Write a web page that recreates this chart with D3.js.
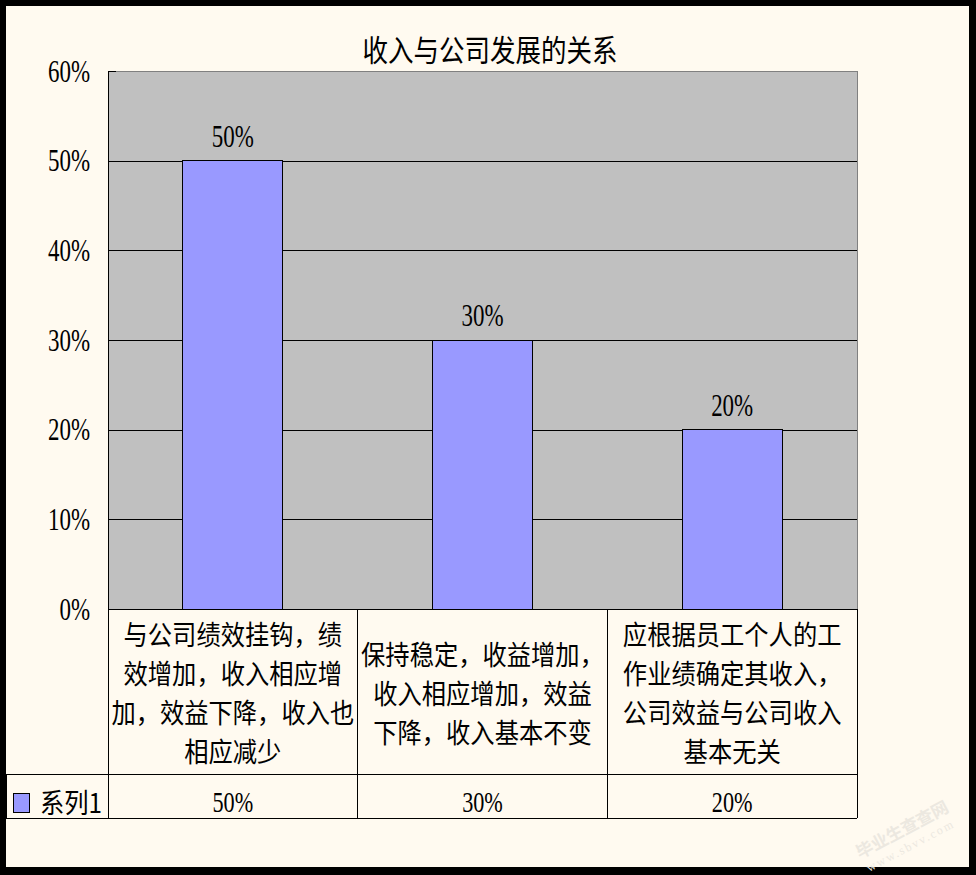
<!DOCTYPE html>
<html>
<head>
<meta charset="utf-8">
<script src="https://cdn.jsdelivr.net/npm/d3@7"></script>
<style>
  html, body { margin: 0; padding: 0; background: #fff; }
  svg { display: block; }
</style>
</head>
<body>
<svg id="chart" width="976" height="875"></svg>
<script>
const title = "收入与公司发展的关系";
const seriesName = "系列1";
const categories = [
  "与公司绩效挂钩，绩\n效增加，收入相应增\n加，效益下降，收入也\n相应减少",
  "保持稳定，收益增加，\n收入相应增加，效益\n下降，收入基本不变",
  "应根据员工个人的工\n作业绩确定其收入，\n公司效益与公司收入\n基本无关"
];
const values = [0.5, 0.3, 0.2];
const yTicks = [0, 0.1, 0.2, 0.3, 0.4, 0.5, 0.6];

const W = 976, H = 875;
const plot = { left: 108, right: 857, top: 71, bottom: 609 };
const tableRow1 = 774, tableRow2 = 818, tableLeft = 6;
const cream = "#FFFAF0";
const serif = "'Liberation Serif', 'Times New Roman', serif";
const cjk = "'Noto Sans CJK SC', 'Noto Sans', sans-serif";
const narrow = 0.74;

function condense(sel) {
  sel.each(function () {
    const len = this.getComputedTextLength();
    d3.select(this).attr("textLength", len * narrow).attr("lengthAdjust", "spacingAndGlyphs");
  });
}

const svg = d3.select("#chart");
svg.append("rect").attr("width", W).attr("height", H).attr("fill", "#000");
svg.append("rect").attr("x", 6).attr("y", 6).attr("width", 963).attr("height", 861).attr("fill", cream);

const x = d3.scaleBand().domain(d3.range(categories.length))
  .range([plot.left, plot.right]).paddingInner(0.6).paddingOuter(0.3);
const y = d3.scaleLinear().domain([0, 0.6]).range([plot.bottom, plot.top]);
const fmt = d3.format(".0%");

// plot area
svg.append("rect").attr("x", plot.left).attr("y", plot.top)
  .attr("width", plot.right - plot.left).attr("height", plot.bottom - plot.top)
  .attr("fill", "#C0C0C0");

// gridlines
const grid = svg.append("g").attr("transform", `translate(${plot.left},0)`)
  .call(d3.axisRight(y).tickValues(yTicks).tickSize(plot.right - plot.left).tickFormat(""));
grid.select(".domain").remove();
grid.selectAll("line").attr("stroke", "#000").attr("shape-rendering", "crispEdges");

// plot border top/right gray
svg.append("path")
  .attr("d", `M${plot.left},${plot.top + 0.5}H${plot.right + 0.5}V${plot.bottom}`)
  .attr("fill", "none").attr("stroke", "#808080").attr("shape-rendering", "crispEdges");

// bars
svg.append("g").selectAll("rect").data(values).join("rect")
  .attr("x", (d, i) => x(i))
  .attr("y", d => y(d))
  .attr("width", x.bandwidth())
  .attr("height", d => y(0) - y(d))
  .attr("fill", "#9999FF")
  .attr("stroke", "#000").attr("stroke-width", 1)
  .attr("shape-rendering", "crispEdges");

// y axis
const yAxis = svg.append("g").attr("transform", `translate(${plot.left},0)`)
  .call(d3.axisLeft(y).tickValues(yTicks).tickFormat(fmt).tickSizeInner(-8).tickSizeOuter(0).tickPadding(18));
yAxis.select(".domain").attr("stroke", "#000").attr("shape-rendering", "crispEdges");
yAxis.selectAll("line").attr("stroke", "#000").attr("shape-rendering", "crispEdges");
yAxis.selectAll("text")
  .attr("font-family", serif).attr("font-size", 31).attr("fill", "#000")
  .attr("dy", "0.33em")
  .call(condense);

// data labels
svg.append("g").selectAll("text").data(values).join("text")
  .attr("x", (d, i) => x(i) + x.bandwidth() / 2)
  .attr("y", d => y(d) - 14)
  .attr("text-anchor", "middle")
  .attr("font-family", serif).attr("font-size", 31)
  .text(d => fmt(d))
  .call(condense);

// title
svg.append("text")
  .attr("x", 490).attr("y", 61)
  .attr("text-anchor", "middle")
  .attr("font-family", cjk).attr("font-size", 30)
  .attr("textLength", 255).attr("lengthAdjust", "spacingAndGlyphs")
  .text(title);

// data table
const step = x.step();
const bounds = d3.range(categories.length + 1).map(i => plot.left + i * step);
const tbl = svg.append("g").attr("stroke", "#000").attr("shape-rendering", "crispEdges");
tbl.append("line").attr("x1", plot.left).attr("x2", plot.right).attr("y1", plot.bottom).attr("y2", plot.bottom);
[tableRow1, tableRow2].forEach(yy =>
  tbl.append("line").attr("x1", tableLeft).attr("x2", plot.right).attr("y1", yy).attr("y2", yy));
bounds.forEach(bx =>
  tbl.append("line").attr("x1", bx).attr("x2", bx).attr("y1", plot.bottom).attr("y2", tableRow2));
tbl.append("line").attr("x1", tableLeft + 0.5).attr("x2", tableLeft + 0.5).attr("y1", tableRow1).attr("y2", tableRow2);

// category labels
const cellCy = (plot.bottom + tableRow1) / 2;
const lineH = 39;
categories.forEach((c, i) => {
  const lines = c.split("\n");
  const cx = x(i) + x.bandwidth() / 2;
  const g = svg.append("g").attr("transform", `translate(${cx},0) scale(0.9,1)`);
  g.selectAll("text").data(lines).join("text")
    .attr("x", 0)
    .attr("y", (d, j) => cellCy + (j - (lines.length - 1) / 2) * lineH + 12.5)
    .attr("text-anchor", "middle")
    .attr("font-family", cjk).attr("font-size", 27)
    .text(d => d);
});

// value row
svg.append("g").selectAll("text").data(values).join("text")
  .attr("x", (d, i) => x(i) + x.bandwidth() / 2)
  .attr("y", 812)
  .attr("text-anchor", "middle")
  .attr("font-family", serif).attr("font-size", 30)
  .text(d => fmt(d))
  .call(condense);

// legend key
svg.append("rect").attr("x", 13.5).attr("y", 793.5).attr("width", 16).attr("height", 19)
  .attr("fill", "#9999FF").attr("stroke", "#000").attr("shape-rendering", "crispEdges");
svg.append("g").attr("transform", "translate(40,0) scale(0.9,1)")
  .append("text").attr("x", 0).attr("y", 813)
  .attr("font-family", cjk).attr("font-size", 27)
  .text(seriesName);

// faint watermark
const wm = svg.append("g").attr("transform", "translate(905,835) rotate(-28)").attr("fill", "#ECE8E0");
wm.append("text").attr("text-anchor", "middle").attr("font-family", cjk).attr("font-weight", "bold").attr("font-size", 17).text("毕业生查查网");
wm.append("text").attr("text-anchor", "middle").attr("y", 16).attr("font-family", serif).attr("font-size", 12).attr("letter-spacing", 2).text("www.sbvv.com");
</script>
</body>
</html>
